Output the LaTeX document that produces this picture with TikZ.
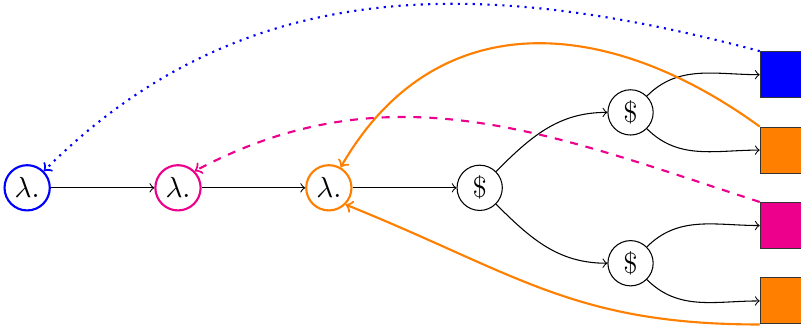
\documentclass[tikz,border=0pt]{standalone}
\begin{document}
\begin{tikzpicture}[
  font=\fontsize{11pt}{13pt}\selectfont,
  lam/.style={circle,draw,thick,minimum size=0.6cm,inner sep=0pt,text=black},
  dol/.style={circle,draw,minimum size=0.6cm,inner sep=0pt},
  box/.style={rectangle,draw=black!80,minimum width=0.56cm,minimum height=0.61cm,inner sep=0pt},
  flow/.style={->},
  back/.style={->,thick}
]
\useasboundingbox (-0.36,-1.86) rectangle (10.26,2.49);
\node[lam,draw=blue] (l1) at (0,0) {$\lambda.$};
\node[lam,draw=magenta] (l2) at (2,0) {$\lambda.$};
\node[lam,draw=orange] (l3) at (4,0) {$\lambda.$};
\node[dol] (d0) at (6,0) {\$};
\node[dol] (d1) at (8,1) {\$};
\node[dol] (d2) at (8,-1) {\$};
\node[box,fill=blue] (r1) at (10,1.5) {};
\node[box,fill=orange] (r2) at (10,0.5) {};
\node[box,fill=magenta] (r3) at (10,-0.5) {};
\node[box,fill=orange] (r4) at (10,-1.5) {};
\draw[flow] (l1) -- (l2);
\draw[flow] (l2) -- (l3);
\draw[flow] (l3) -- (d0);
\draw[flow] (d0) to[out=45,in=180] (d1);
\draw[flow] (d0) to[out=-45,in=180] (d2);
\draw[flow] (d1) to[out=45,in=180] (r1);
\draw[flow] (d1) to[out=-45,in=180] (r2);
\draw[flow] (d2) to[out=45,in=180] (r3);
\draw[flow] (d2) to[out=-45,in=180] (r4);
\draw[back,blue,dotted] (r1.north west) to[out=165,in=45] (l1.north east);
\draw[back,orange] (r2.north west) to[out=144,in=60,looseness=1.15] (l3.60);
\draw[back,magenta,dashed] (r3.north west) to[out=162,in=28] (l2.north east);
\draw[back,orange] (r4.south west) to[out=180,in=-22,looseness=1.1] (l3.south east);
\end{tikzpicture}
\end{document}
